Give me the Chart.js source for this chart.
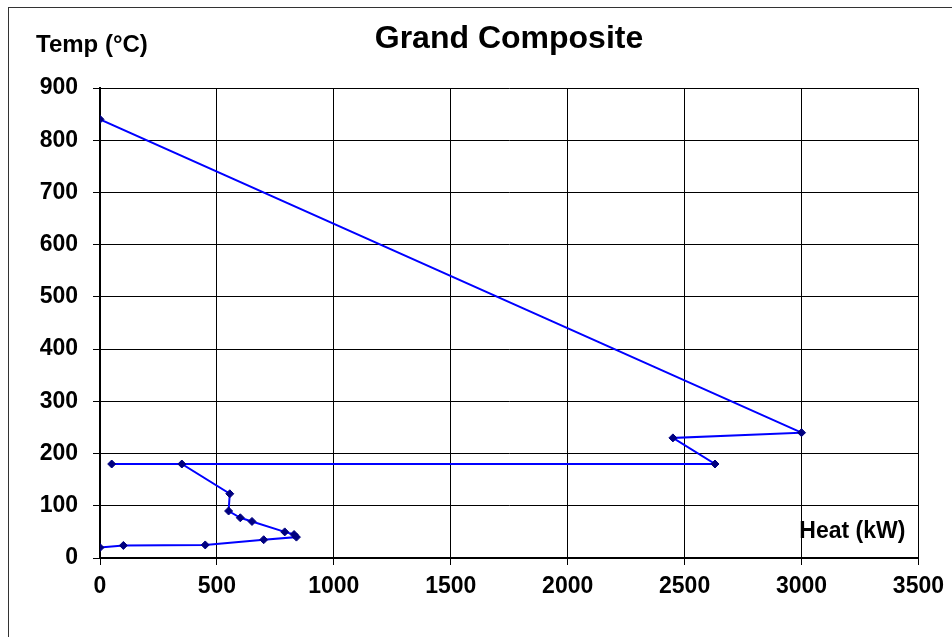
<!DOCTYPE html>
<html>
<head>
<meta charset="utf-8">
<title>Grand Composite</title>
<script src="https://cdn.jsdelivr.net/npm/chart.js@4.4.1/dist/chart.umd.min.js"></script>
<style>
  html, body { margin: 0; padding: 0; background: #fff; }
  canvas { display: block; }
</style>
</head>
<body>
<canvas id="gcc" width="952" height="637"></canvas>
<script>
// Grand composite curve points
const heat = [0, 3000, 2450, 2630, 50, 350, 555, 550, 600, 650, 790, 830, 840, 700, 450, 100, 0];
const temp = [840, 240, 230, 180, 180, 180, 123, 90, 77, 70, 50, 45, 40, 35, 25, 24, 20];

const chartTitle = 'Grand Composite';
const yTitle = 'Temp (°C)';
const xTitle = 'Heat (kW)';

const FONT = '"Liberation Sans", Arial, Helvetica, sans-serif';

// Titles and the outer frame are drawn by hand, like the spreadsheet chart
const labelsPlugin = {
  id: 'labels',
  beforeDraw(chart) {
    const ctx = chart.ctx;
    ctx.save();
    ctx.fillStyle = '#fff';
    ctx.fillRect(0, 0, chart.width, chart.height);
    ctx.strokeStyle = '#333';
    ctx.lineWidth = 1;
    ctx.strokeRect(8.5, 7.5, 1000, 1000);
    ctx.restore();
  },
  afterDraw(chart) {
    const ctx = chart.ctx;
    const area = chart.chartArea;
    ctx.save();
    ctx.fillStyle = '#000';
    ctx.textBaseline = 'alphabetic';

    ctx.font = 'bold 32px ' + FONT;
    ctx.textAlign = 'center';
    ctx.fillText(chartTitle, 509, 48);

    ctx.font = 'bold 24px ' + FONT;
    ctx.textAlign = 'left';
    ctx.fillText(yTitle, 36, 52);

    ctx.font = 'bold 23px ' + FONT;
    ctx.textAlign = 'right';
    ctx.fillText(xTitle, area.right - 13, 538);
    ctx.restore();
  }
};

const points = heat.map((h, i) => ({ x: h, y: temp[i] }));

const tickFont = { family: FONT, size: 23, weight: 'bold' };

new Chart(document.getElementById('gcc'), {
  type: 'scatter',
  data: {
    datasets: [{
      data: points,
      showLine: true,
      borderColor: '#0000ff',
      borderWidth: 2,
      pointStyle: 'rectRot',
      pointRadius: 4,
      pointBackgroundColor: '#000080',
      pointBorderColor: '#000080',
      pointBorderWidth: 1,
      tension: 0
    }]
  },
  options: {
    responsive: false,
    animation: false,
    devicePixelRatio: 1,
    layout: { padding: { left: 0, top: 88, right: 29, bottom: 0 } },
    plugins: {
      legend: { display: false },
      tooltip: { enabled: false },
      title: { display: false }
    },
    scales: {
      x: {
        type: 'linear',
        min: 0,
        max: 3500,
        afterFit: (scale) => { scale.height = 79; },
        ticks: {
          stepSize: 500, font: tickFont, color: '#000', padding: 8, maxRotation: 0,
          callback: (v) => String(v)
        },
        grid: { color: '#000', lineWidth: 1, tickLength: 7 },
        border: { color: '#000', width: 2 }
      },
      y: {
        type: 'linear',
        min: 0,
        max: 900,
        afterFit: (scale) => { scale.width = 100; },
        ticks: {
          stepSize: 100, font: tickFont, color: '#000', padding: 15,
          callback: (v) => String(v)
        },
        grid: { color: '#000', lineWidth: 1, tickLength: 7 },
        border: { color: '#000', width: 2 }
      }
    }
  },
  plugins: [labelsPlugin]
});
</script>
</body>
</html>
